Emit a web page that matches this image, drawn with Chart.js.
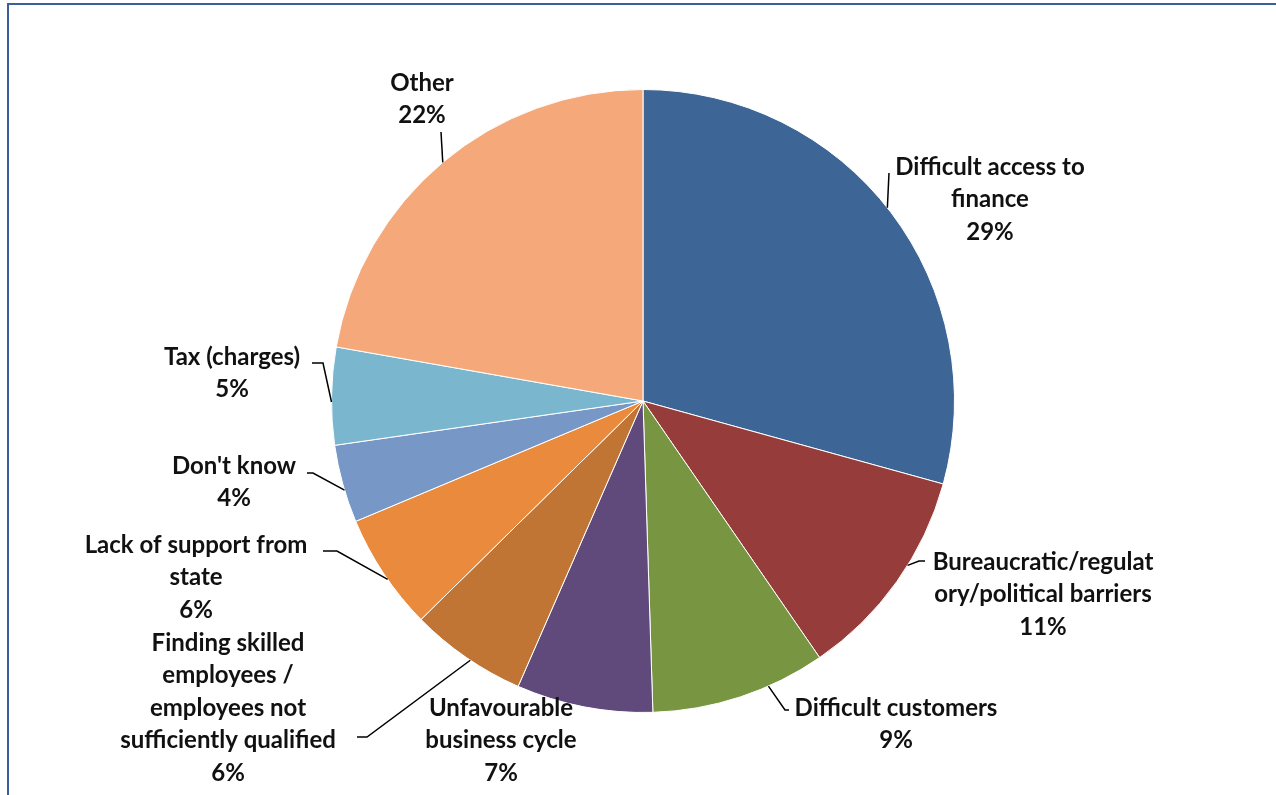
<!DOCTYPE html>
<html>
<head>
<meta charset="utf-8">
<script src="https://cdn.jsdelivr.net/npm/chart.js@4.4.1/dist/chart.umd.min.js"></script>
<style>
  html, body { margin:0; padding:0; background:#fff; }
  #frame { position:absolute; left:7px; top:3px; width:1269px; height:792px;
           border-top:2px solid #3a5f99; border-left:2px solid #3a5f99; box-sizing:border-box; }
  #grafico { position:absolute; left:0; top:0; }
</style>
</head>
<body>
<div id="frame"></div>
<canvas id="grafico" width="1276" height="795"></canvas>
<script>
// categorie (una riga per ogni riga di testo dell'etichetta)
var categorie = [
    ["Difficult access to", "finance"],
    ["Bureaucratic/regulat", "ory/political barriers"],
    ["Difficult customers"],
    ["Unfavourable", "business cycle"],
    ["Finding skilled", "employees /", "employees not", "sufficiently qualified"],
    ["Lack of support from", "state"],
    ["Don't know"],
    ["Tax (charges)"],
    ["Other"]
];
// percentuali
var valori = [29, 11, 9, 7, 6, 6, 4, 5, 22];
var colori = ["#3d6596", "#963d3b", "#789542", "#604a7b", "#c07534",
              "#e98a3c", "#7797c6", "#7ab7cf", "#f5a97b"];

// posizione etichette rispetto al centro della torta (px) e linee guida
// f = frazione dell'arco dove parte la linea, pts = punti successivi
var posEtichette = [
    {tx: 347,  ty: -234, f: 0.49, pts: [[246, -228]]},
    {tx: 400,  ty: 161,  f: 0.41, pts: [[276, 160], [282, 160]]},
    {tx: 253,  ty: 307,  f: 0.33, pts: [[142, 309], [146, 309]]},
    {tx: -142, ty: 307,  f: 0,    pts: null},
    {tx: -415, ty: 242,  f: 0.46, pts: [[-276, 336], [-286, 336]]},
    {tx: -447, ty: 144,  f: 0.44, pts: [[-306, 150], [-320, 150]]},
    {tx: -409, ty: 65,   f: 0.42, pts: [[-330, 72], [-336, 72]]},
    {tx: -411, ty: -44,  f: 0.44, pts: [[-320, -38], [-331, -38]]},
    {tx: -221, ty: -318, f: 0.5,  pts: [[-202, -269]]}
];
var interlinea = 32.5;

// plugin che disegna etichette e linee guida partendo dagli archi calcolati da chart.js
var etichette = {
    id: 'etichette',
    afterDatasetsDraw: function(chart) {
        var ctx = chart.ctx;
        var meta = chart.getDatasetMeta(0);
        ctx.save();
        meta.data.forEach(function(arc, i) {
            var p = arc.getProps(['x', 'y', 'startAngle', 'endAngle', 'outerRadius'], true);
            var pos = posEtichette[i];
            if (pos.pts) {
                var a = p.startAngle + pos.f * (p.endAngle - p.startAngle);
                ctx.beginPath();
                ctx.moveTo(p.x + p.outerRadius * Math.cos(a), p.y + p.outerRadius * Math.sin(a));
                pos.pts.forEach(function(q) { ctx.lineTo(p.x + q[0], p.y + q[1]); });
                ctx.strokeStyle = '#000';
                ctx.lineWidth = 1.5;
                ctx.stroke();
            }
            var righe = categorie[i].concat([valori[i] + '%']);
            ctx.fillStyle = '#111';
            ctx.font = "bold 24px Lato, sans-serif";
            ctx.textAlign = 'center';
            ctx.textBaseline = 'middle';
            righe.forEach(function(t, k) {
                ctx.fillText(t, p.x + pos.tx, p.y + pos.ty + k * interlinea);
            });
        });
        ctx.restore();
    }
};

var g = document.getElementById('grafico').getContext('2d');
new Chart(g, {
    type: 'pie',
    data: {
        labels: categorie,
        datasets: [{
            data: valori,
            backgroundColor: colori,
            borderColor: '#ffffff',
            borderWidth: 1
        }]
    },
    options: {
        responsive: false,
        animation: false,
        events: [],
        layout: {padding: {left: 331, right: 321, top: 89, bottom: 82}},
        plugins: {
            legend: {display: false},
            tooltip: {enabled: false}
        }
    },
    plugins: [etichette]
});
</script>
</body>
</html>
